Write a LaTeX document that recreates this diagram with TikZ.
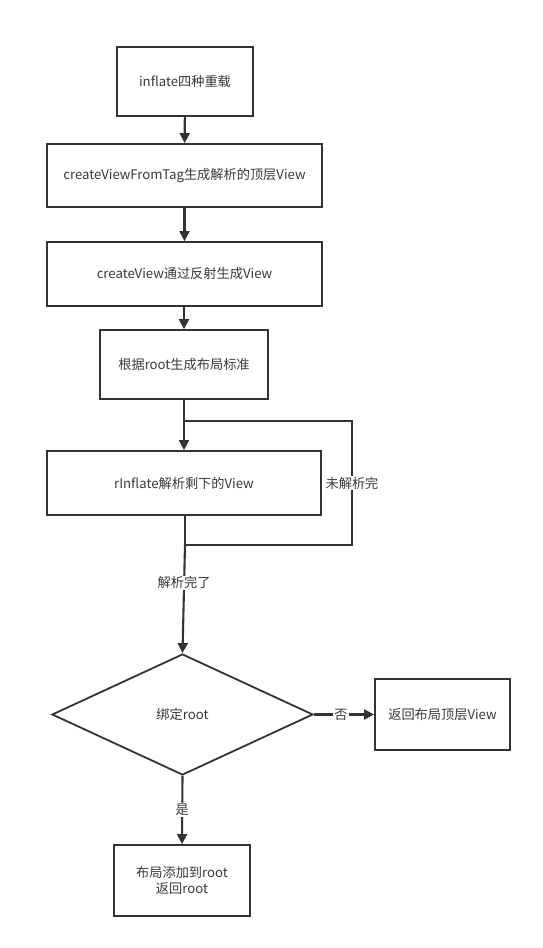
\documentclass[tikz,border=0pt]{standalone}
\usepackage{fontspec}
\setmainfont{Noto Sans CJK SC}
\usetikzlibrary{arrows.meta,shapes.geometric}
\definecolor{ink}{HTML}{333333}
\definecolor{txt}{HTML}{3A3A3A}
\begin{document}
\begin{tikzpicture}[x=1pt,y=-1pt,
  box/.style={draw=ink,line width=1.8pt,rectangle,inner sep=0pt,align=center,text=txt,font=\fontsize{13.2}{16}\selectfont},
  arr/.style={draw=ink,line width=2.1pt,-{Triangle[length=10pt,width=10pt]}},
  ln/.style={draw=ink,line width=2.1pt},
  lp/.style={draw=ink,line width=1.4pt},
  lbl/.style={fill=white,text=txt,inner sep=1pt,font=\fontsize{13.2}{16}\selectfont}]
\useasboundingbox (0,0) rectangle (542,948);
\fill[white] (0,0) rectangle (542,948);
\node[box,minimum width=136pt,minimum height=69pt] (b1) at (185,81.5) {inflate四种重载};
\node[box,minimum width=275pt,minimum height=63pt] (b2) at (184.5,175.5) {createViewFromTag生成解析的顶层View};
\node[box,minimum width=275pt,minimum height=64pt] (b3) at (184.5,274) {createView通过反射生成View};
\node[box,minimum width=168pt,minimum height=69pt] (b4) at (184,364.5) {根据root生成布局标准};
\node[box,minimum width=274pt,minimum height=64pt] (b5) at (184,483) {rInflate解析剩下的View};
\node[box,diamond,aspect=2.16,minimum width=261pt,minimum height=121pt,inner sep=0pt] (d) at (182.5,714.5) {绑定root};
\node[box,minimum width=135pt,minimum height=71pt] (r) at (442.5,714.5) {返回布局顶层View};
\node[box,minimum width=136pt,minimum height=71pt] (e) at (182,880.5) {布局添加到root\\返回root};
\coordinate (j1) at (185,545);
\coordinate (j2) at (185,421);
\coordinate (c1) at (352,545);
\coordinate (c2) at (352,421);
\draw[arr] (b1) -- (b2);
\draw[arr] (b2) -- (b3);
\draw[arr] (b3.south -| b4) -- (b4);
\draw[arr] (b4.south) -- (b4.south |- b5.north);
\draw[ln] (b5.south -| j1) -- (j1);
\draw[lp] (j1) -- (c1) -- (c2) -- (j2);
\node[lbl] (l1) at (352,483) {未解析完};
\draw[arr] (j1) -- (d.north) node[lbl,pos=0.35] (l2) {解析完了};
\draw[arr] (d.east) -- (r.west) node[lbl,pos=0.45] (l3) {否};
\draw[arr] (d.south) -- (e.north) node[lbl,pos=0.5] (l4) {是};
\end{tikzpicture}
\end{document}
